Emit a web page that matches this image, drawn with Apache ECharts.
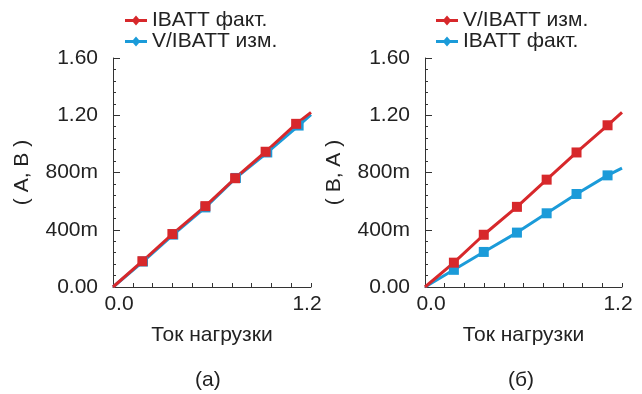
<!DOCTYPE html>
<html>
<head>
<meta charset="utf-8">
<script src="https://cdn.jsdelivr.net/npm/echarts@6/dist/echarts.min.js"></script>
<style>
  html, body { margin: 0; padding: 0; background: #fff; }
  #chart { width: 642px; height: 394px; }
</style>
</head>
<body>
<div id="chart"></div>
<script>
// Data
const leftX = [0, 0.178, 0.36, 0.56, 0.74, 0.925, 1.11, 1.2];
const leftFact = [0, 0.18, 0.37, 0.565, 0.76, 0.945, 1.14, 1.22];
const leftMeasX = [0, 0.182, 0.365, 0.56, 0.745, 0.935, 1.125, 1.2];
const leftMeas = [0, 0.178, 0.366, 0.556, 0.762, 0.94, 1.128, 1.205];

const rightX = [0, 0.176, 0.358, 0.56, 0.741, 0.923, 1.112, 1.2];
const rightMeas = [0, 0.17, 0.365, 0.56, 0.75, 0.94, 1.13, 1.22];
const rightFact = [0, 0.12, 0.245, 0.38, 0.515, 0.65, 0.78, 0.83];

const yTickLabels = ["0.00", "400m", "800m", "1.20", "1.60"];
const xTickLabels = ["0.0", "1.2"];

const legendText = {
  lFact: "IBATT факт.",
  lMeas: "V/IBATT изм.",
  rMeas: "V/IBATT изм.",
  rFact: "IBATT факт.",
};

const RED = "#d7282b";
const BLUE = "#1b9bd9";
const FONT = "Liberation Sans";
const FS = 21;
const TXT = "#222";

const pairs = (xs, ys) => xs.map((x, i) => [x, ys[i]]);

// line with a diamond in the middle
const legendIcon =
  "path://M0,3.6 H8 L11,0 L14,3.6 H22 V6.4 H14 L11,10 L8,6.4 H0 Z";

const makeX = (gridIndex) => ({
  type: "value",
  gridIndex: gridIndex,
  min: 0,
  max: 1.2,
  interval: 0.12,
  name: "Ток нагрузки",
  nameLocation: "middle",
  nameGap: 38,
  nameTextStyle: { fontFamily: FONT, fontSize: FS, color: TXT },
  axisLine: { show: true, lineStyle: { color: "#333", width: 1 } },
  axisTick: { show: true, inside: true, length: 4, lineStyle: { color: "#333" } },
  splitLine: { show: false },
  axisLabel: {
    margin: 7,
    fontFamily: FONT,
    fontSize: FS,
    color: TXT,
    formatter: (v) => {
      if (Math.abs(v) < 1e-6) return "{l|" + xTickLabels[0] + "}";
      if (Math.abs(v - 1.2) < 1e-6) return "{r|" + xTickLabels[1] + "}";
      return "";
    },
    rich: {
      l: { fontFamily: FONT, fontSize: FS, color: TXT, padding: [0, 0, 0, 12] },
      r: { fontFamily: FONT, fontSize: FS, color: TXT, padding: [0, 8, 0, 0] },
    },
  },
});

const makeY = (gridIndex, name) => ({
  type: "value",
  gridIndex: gridIndex,
  min: 0,
  max: 1.6,
  interval: 0.4,
  name: name,
  nameLocation: "middle",
  nameGap: 80,
  nameTextStyle: { fontFamily: FONT, fontSize: FS, color: TXT },
  axisLine: { show: true, lineStyle: { color: "#333", width: 1 } },
  axisTick: { show: true, inside: true, length: 7, lineStyle: { color: "#333" } },
  minorTick: { show: true, splitNumber: 5, length: 3, lineStyle: { color: "#333" } },
  splitLine: { show: false },
  axisLabel: {
    margin: 15,
    fontFamily: FONT,
    fontSize: FS,
    color: TXT,
    formatter: (v) => yTickLabels[Math.round(v / 0.4)],
  },
});

const makeSeries = (name, xi, data, color) => ({
  name: name,
  type: "line",
  xAxisIndex: xi,
  yAxisIndex: xi,
  data: data,
  color: color,
  symbol: (value, params) =>
    params.dataIndex === 0 || params.dataIndex === data.length - 1 ? "none" : "rect",
  symbolSize: 10,
  lineStyle: { width: 3, color: color },
  itemStyle: { color: color },
  animation: false,
});

const makeLegend = (left, names) => ({
  left: left,
  top: 10,
  padding: 0,
  orient: "vertical",
  itemGap: 0,
  itemWidth: 22,
  itemHeight: 10,
  icon: legendIcon,
  data: names,
  formatter: (n) => legendText[n],
  textStyle: { fontFamily: FONT, fontSize: FS, color: TXT },
});

const chart = echarts.init(document.getElementById("chart"));
chart.setOption({
  animation: false,
  backgroundColor: "#fff",
  title: [
    { text: "(а)", left: 195, top: 370, padding: 0,
      textStyle: { fontFamily: FONT, fontSize: FS, fontWeight: "normal", color: TXT } },
    { text: "(б)", left: 508, top: 370, padding: 0,
      textStyle: { fontFamily: FONT, fontSize: FS, fontWeight: "normal", color: TXT } },
  ],
  legend: [
    makeLegend(125, ["lFact", "lMeas"]),
    makeLegend(436, ["rMeas", "rFact"]),
  ],
  grid: [
    { left: 113, top: 58, width: 198, height: 229 },
    { left: 425, top: 58, width: 197, height: 229 },
  ],
  xAxis: [makeX(0), makeX(1)],
  yAxis: [makeY(0, "( A, B )"), makeY(1, "( B, A )")],
  series: [
    makeSeries("lMeas", 0, pairs(leftMeasX, leftMeas), BLUE),
    makeSeries("lFact", 0, pairs(leftX, leftFact), RED),
    makeSeries("rFact", 1, pairs(rightX, rightFact), BLUE),
    makeSeries("rMeas", 1, pairs(rightX, rightMeas), RED),
  ],
});
</script>
</body>
</html>
